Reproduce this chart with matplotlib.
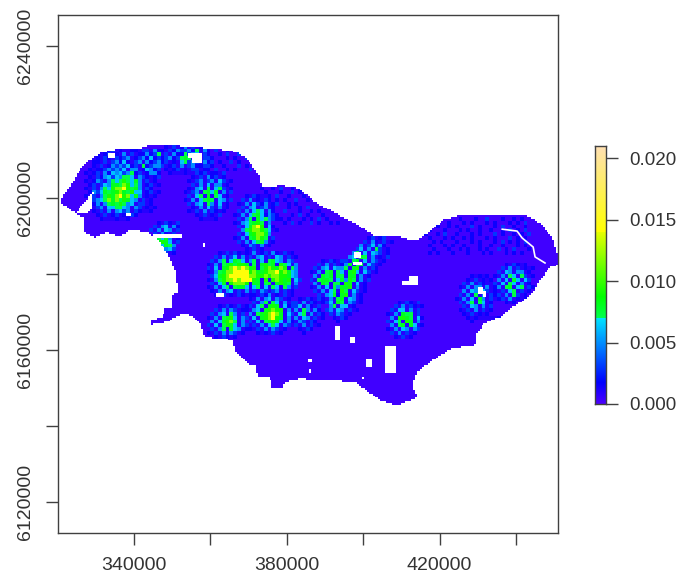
import numpy as np
import matplotlib
matplotlib.use("Agg")
import matplotlib.pyplot as plt
from matplotlib.colors import LinearSegmentedColormap, Normalize
from matplotlib.path import Path
from matplotlib.patches import Rectangle

plt.rcParams["font.family"] = ["Liberation Sans", "DejaVu Sans"]

# Outline of the raster (km)
outline_x = [320.7, 322.0, 323.8, 325.4, 327.7, 331.1, 335.6, 340.8, 344.7, 350.2, 356.5, 361.8, 367.0, 370.4, 373.0,
             373.5, 379.0, 383.0, 387.9, 394.7, 400.0, 403.1, 408.9, 413.6, 417.0, 420.9, 425.4, 435.8, 442.9, 446.3,
             449.5, 451.0, 451.0, 448.9, 446.3, 445.0, 442.9, 439.2, 435.8, 431.9, 429.3, 429.5, 423.5, 418.3, 414.1,
             412.8, 414.1, 408.9, 404.4, 400.0, 397.9, 386.1, 383.5, 379.6, 378.8, 376.2, 375.6, 372.5, 371.7, 370.4,
             366.5, 365.7, 361.2, 358.1, 357.3, 354.7, 353.4, 350.0, 348.9, 344.2, 344.7, 347.4, 348.1, 350.0, 350.0,
             351.5, 350.8, 348.7, 346.0, 343.4, 339.0, 336.4, 333.0, 329.8, 327.2, 327.2, 325.4]
outline_y = [6198.9, 6201.3, 6203.9, 6206.8, 6209.5, 6211.8, 6212.9, 6212.9, 6214.2, 6213.9, 6213.4, 6212.9, 6212.1,
             6209.5, 6205.5, 6202.9, 6203.4, 6202.6, 6198.7, 6195.0, 6192.1, 6189.8, 6190.0, 6188.7, 6190.8, 6194.2,
             6195.5, 6195.5, 6195.3, 6193.4, 6189.7, 6184.5, 6182.4, 6181.8, 6178.4, 6175.8, 6173.7, 6171.3, 6168.7,
             6167.1, 6163.9, 6161.3, 6160.5, 6157.4, 6154.2, 6150.8, 6147.6, 6145.2, 6146.8, 6150.0, 6151.6, 6152.1,
             6152.4, 6151.6, 6150.0, 6150.0, 6152.9, 6153.1, 6156.0, 6156.0, 6160.0, 6162.6, 6163.1, 6163.9, 6167.1,
             6169.2, 6169.7, 6168.4, 6167.4, 6166.6, 6167.9, 6168.7, 6170.8, 6170.8, 6174.5, 6175.3, 6181.0, 6185.5,
             6189.5, 6191.0, 6191.6, 6189.7, 6191.0, 6189.7, 6190.8, 6194.7, 6195.5]

# West notch
notch_x = [325.1, 328.5, 329.0, 329.3, 328.0, 326.4, 325.4]
notch_y = [6196.0, 6196.3, 6198.2, 6201.3, 6200.0, 6198.2, 6196.8]

# Empty cells inside the map: x0, x1, y0, y1 (km)
holes = [
    (333.2, 335.1, 6210.5, 6211.8), (355.2, 357.8, 6209.2, 6211.8), (354.2, 356.0, 6210.6, 6211.8),
    (337.9, 339.2, 6195.3, 6196.0), (345.0, 352.6, 6189.4, 6190.6), (358.1, 358.6, 6187.1, 6188.2),
    (361.5, 363.6, 6174.0, 6175.0), (397.6, 399.4, 6184.2, 6185.8), (397.4, 399.7, 6182.4, 6183.2),
    (410.2, 414.4, 6177.0, 6178.2), (412.0, 414.4, 6177.8, 6179.5), (430.0, 431.5, 6174.8, 6176.6),
    (431.5, 432.2, 6173.9, 6175.5), (392.6, 394.0, 6162.6, 6166.3), (396.6, 397.9, 6161.8, 6163.4),
    (405.7, 408.6, 6153.9, 6161.0), (400.8, 402.4, 6155.5, 6157.6), (385.6, 386.6, 6156.8, 6157.6),
    (385.8, 386.4, 6153.9, 6155.0), (399.7, 400.3, 6152.4, 6152.9),
]
river_x = [436.4, 440.3, 441.6, 444.5, 445.0, 447.6]
river_y = [6191.8, 6191.3, 6189.5, 6187.1, 6184.5, 6182.9]

# Density classes used in the patches below
levels = {".": 0.0003, "0": 0.0009, "1": 0.0015, "2": 0.0030, "3": 0.0050, "4": 0.0062,
          "5": 0.0072, "6": 0.0080, "7": 0.0092, "8": 0.0115, "9": 0.0143}

# Hot spots: west edge (km), top edge (km), rows of 1 km cells
spot_a = (327, 6213, [
    "..1....2.1..1..21.3.", "...1.12.1.3.2..13.25", ".1.1.21.2123.1231412", "..11.2.23141.23.3123",
    "..1.2.13232412.5.233", ".1.11232324.33.14312", "1.12.3143423512.1331", ".1.2134243554.321.12",
    "1.132.354575463.2.1.", ".12.24366587453.12.1", "1.2.35478897563.21..", ".13246567865744.12.1",
    "1.2.35768978463.1.1.", ".1234586857643.2.1..", "..13.35657534.22.1..", ".1.23.445543.32.1.1.",
    "..1.2.3.3423.21..1..", "...1.2.12.1.21......", "....1...1..1........"])
spot_b = (346, 6214, [
    "..1.2.13.2.11.", ".1.2.3123.5.31", "1.2.31.5234.21", ".1.3.2565.3.12", "..2.1.45.32.31",
    ".1.12.3.23.1.2", "..1..2.1.12.1.", "...1...1..21.."])
spot_c = (353, 6207, [
    "...1.2.11.2..", "..1.2.312.1..", ".1.23.23.42.1", "..2.3.4.33.1.", ".1.34.5.452.1", "1.23.5646.3.2",
    ".2.45.6.54.1.", "1.3.4565.43.2", ".2.34.53.4.1.", "..1.3.42.3.1.", ".1.2.3.21.1..", "...1.2.1.2...", "....1...1...."])
spot_d = (366, 6201, [
    "...1.21..1..", "..2.3.1.21..", ".1.3.42.3.1.", "..2.34.23.1.", ".2.3.454.3..", "1.3.4564.32.",
    ".2.35.6453.1", "1.345675.3..", ".2.46897.41.", "..35788754.1", ".2.4678863..", "1.3.56875.2.",
    ".2.3.4563.1.", "..1.32.3.1..", "...1.2.1...."])
spot_e = (344, 6194, [
    "..1.21.2", ".2.34.31", "2.3.43.2", ".2.31.2.", "..5463.1", ".36764.2", ".2.4653.", "..1.342.", "....2.1."])
spot_f = (359, 6186, [
    "...1.2.21.1.3.12.31.2.1.", "..2.3.24.3.2.34.2.43.2.1", ".2.35.4654.35.4.5643.32.", "1.3.5675776.5.6756.754.3",
    "2.4.678989867.5787687.53", "1.3568899997866788978643", ".24678999998877878877643", "1.357889899976.7.78767.42",
    ".2.46.78887.66.56.6765.3", "1.3.45.5664.45.4.54.53.2", ".1.3.34.2.3.2.32.23.2.1.", "..1.2.1.21.1..21..1.1..."])
spot_g = (359, 6172, [
    "...1.21.2.1", "..2.3.32.1.", ".2.34.53.2.", "1.3.5674.31", ".3.46785.3.", "2.4.5764.32",
    ".2.35.643.1", "1.2.3.32.1.", "..1.21.1..."])
spot_h = (369, 6175, [
    "..1.2.3.1.2.1.", ".1.3.34.32.1..", "..2.35.54.3.2.", ".2.45.676.41.2", "1.34.67877.3.1", ".3.5678986.42.",
    "2.4.678976.3.1", ".2.4.56764.31.", "1.2.3.454.32.1", ".1.2.3.32.1...", "...1.1.2.1...."])
spot_i = (381, 6174, [
    "..1.21.2.", ".2.3.21.1", "2.4.31.2.", ".3.53.31.", "2.45.3.21", ".3.43.2.1", "1.32.21..", ".2.3.2.1.", "..1.21...", "...1....."])
spot_j = (386, 6184, [
    "...1.21.2..1", "..2.3.2.1.2.", ".2.34.43.1..", "1.3.56.53.21", ".3.656.55.2.", "2.5665.4.3.1",
    ".3.65.54.2..", "1.3.4.53.31.", ".2.3.42.1...", "..2.3.21.1..", "...1.1......"])
spot_k = (390, 6190, [
    "...........12.12..", "..........2.31.2.1", ".........3.24.31..", "........24.3.52.1.", ".......35.4.432.1.",
    "......34.65.3.1.2.", ".....2.56.4.32.1..", ".....36.55.42.1...", "....35.67.3.21....", "....4.674.42.1....",
    "...35.66.3.1......", "...46.75.3.2......", "..35.76.4.1.......", "..4.667.3.1.......", ".35.75.42.1.......",
    ".46.67.3.1........", ".3.56.43.1........", "24.65.32.1........", ".35.44.1..........", "23.43.2.1.........",
    ".2.32.1...........", "..1.21.............", "...1.............."])
spot_l = (406, 6173, [
    "...1.21.2.", "..2.3.21.1", ".2.44.3.2.", "1.3.655.2.", ".3.6765.41", "2.45.76.3.", ".3.56.64.1",
    "1.3.43.32.", ".2.3.2.1..", "..1.2.1..."])
spot_m = (424, 6180, [
    "....1.1.1...", "...1.2.1.1..", "..2.3.21..1.", ".1.3.33.3.1.", "..3.43.42.1.", ".2.3.5.3.21.", "1.3.4.63.2.1",
    ".2.35.54.1..", "..2.43.3.2..", ".1.2.3.2.1..", "..1.2.1.1...", "...1.1.....1", "....1......."])
spot_n = (434, 6183, [
    "...1.21.1..", "..2.3.2.1.1", ".2.43.33.1.", "1.3.54.52.1", ".3.4.64.42.", "2.4.54.3.1.", ".3.56.45.21",
    "1.2.45.2.1.", ".2.3.52.1..", "..2.3.1.1..", "...1.1....."])
all_spots = [spot_a, spot_b, spot_c, spot_d, spot_e, spot_f, spot_g, spot_h, spot_i, spot_j, spot_k, spot_l, spot_m, spot_n]

# Faint blue specks over the north and east of the map
wash_n = (340, 6213, [
    "1..2..1...1.2..1...1.2..1..1.2.", ".1..1.2.1...1.1.2..1..1.2..2.1.", "..2.1...2.1..2..1.2.1...1.1..2.",
    ".1...2.1..1...2.1...2.1..2.1...", "1..1...2..2.1...1.2.1..1...2.1.", "..1.2.1...1..1.2...1.2..1.1...2"])
wash_mid = (373, 6203, [
    "1..1.2..1.1..", ".1...1..2.1.1", "..1.2..1...1.", ".1..1.1..2..1", "1...2..1.1...", ".1.1...1..1.2",
    "...1..2...1..1.1", ".1..1...1.2.1...1", "1..2.1.1...1.1.2.1", "..1...1.2.1..2.1..1.1"])
wash_e = (416, 6195, [
    ".........1...1..2...1..1.1", "......1...1.1...1.1...1.1.2", "...1..1.1...2.1...1.2..1..1.", ".1...1...1.1..1..1..1.2.1.2.",
    "1..1.2..1...1.1...2.1..1.1.2", ".1...1.1..1.1...1.1...2.1.1.", "..1.1...1...1.1...1.2.1.1.2.", ".1...1.1..1...1..1..1...1.1.",
    "..1...1..1.1..1.1..2.1.2...1", ".1.1...1...1...1.1...1.1.1.."])
all_washes = [wash_n, wash_mid, wash_e]

x_ticks = [340000, 360000, 380000, 400000, 420000, 440000]
x_labels = ["340000", "", "380000", "", "420000", ""]
y_ticks = [6120000, 6140000, 6160000, 6180000, 6200000, 6220000, 6240000]
y_labels = ["6120000", "", "6160000", "", "6200000", "", "6240000"]
bar_ticks = [0.000, 0.005, 0.010, 0.015, 0.020]
bar_max = 0.021

# topo.colors from R
topo = LinearSegmentedColormap.from_list("topo", [
    (0, "#4C00FF"), (1 / 12, "#0000FF"), (1 / 3, "#00E5FF"), (1 / 3, "#00FF4D"), (5 / 12, "#00FF00"),
    (2 / 3, "#E6FF00"), (2 / 3, "#FFFF00"), (1, "#FFE0B3")], N=512)
norm = Normalize(0, bar_max)

# Fill the 1 km grid
x_edges = np.arange(320, 452)
y_edges = np.arange(6144, 6217)
grid = np.full((len(y_edges) - 1, len(x_edges) - 1), levels["."])


def put_patch(west, top, rows, halo):
    for i, row in enumerate(rows):
        first = len(row) - len(row.lstrip("."))
        last = len(row.rstrip(".")) - 1
        for j, ch in enumerate(row):
            # dots between marked cells of a hot spot sit in its blue halo
            if halo and ch == "." and first < j < last:
                ch = "0"
            r = top - 6144 - 1 - i
            c = west - 320 + j
            if 0 <= r < grid.shape[0] and 0 <= c < grid.shape[1]:
                grid[r, c] = max(grid[r, c], levels[ch])


for west, top, rows in all_washes:
    put_patch(west, top, rows, False)
for west, top, rows in all_spots:
    put_patch(west, top, rows, True)

# Blank out cells outside the outline, on a 0.5 km grid so the edge is finer
fine = np.repeat(np.repeat(grid, 2, axis=0), 2, axis=1)
x_fine = np.arange(320, 451.25, 0.5)
y_fine = np.arange(6144, 6216.25, 0.5)
xc, yc = np.meshgrid(x_fine[:-1] + 0.25, y_fine[:-1] + 0.25)
pts = np.column_stack([xc.ravel(), yc.ravel()])
inside = Path(np.column_stack([outline_x, outline_y])).contains_points(pts).reshape(xc.shape)
in_notch = Path(np.column_stack([notch_x, notch_y])).contains_points(pts).reshape(xc.shape)
fine = np.ma.masked_where(~inside | in_notch, fine)

fig = plt.figure(figsize=(6.8, 5.8), dpi=100)
ax = fig.add_axes([58 / 680, 47 / 580, 500 / 680, 518 / 580])
ax.pcolormesh(x_fine * 1000, y_fine * 1000, fine, cmap=topo, norm=norm)

for x0, x1, y0, y1 in holes:
    ax.add_patch(Rectangle((x0 * 1000, y0 * 1000), (x1 - x0) * 1000, (y1 - y0) * 1000, color="white", lw=0))
ax.plot(np.array(river_x) * 1000, np.array(river_y) * 1000, color="white", lw=1.2)

ax.set_xlim(320130, 451000)
ax.set_ylim(6111800, 6248200)
ax.set_xticks(x_ticks)
ax.set_xticklabels(x_labels)
ax.set_yticks(y_ticks)
ax.set_yticklabels(y_labels, rotation=90, va="center")
ax.tick_params(length=8.5, width=1, color="#404040", labelcolor="#333333", labelsize=14, pad=9)
for s in ax.spines.values():
    s.set_color("#404040")
    s.set_linewidth(1)

# Colour bar
cax = fig.add_axes([595 / 680, (580 - 404) / 580, 11 / 680, 258 / 580])
vals = np.linspace(0, bar_max, 513)
cax.pcolormesh([0, 1], vals, ((vals[:-1] + vals[1:]) / 2).reshape(-1, 1), cmap=topo, norm=norm)
cax.set_xticks([])
cax.yaxis.tick_right()
cax.set_yticks(bar_ticks)
cax.set_yticklabels(["%.3f" % v for v in bar_ticks])
cax.tick_params(length=8.5, width=1, color="#404040", labelcolor="#333333", labelsize=13.5, pad=8)
for s in cax.spines.values():
    s.set_color("#404040")
    s.set_linewidth(1)

fig.savefig("out.png", dpi=100)
